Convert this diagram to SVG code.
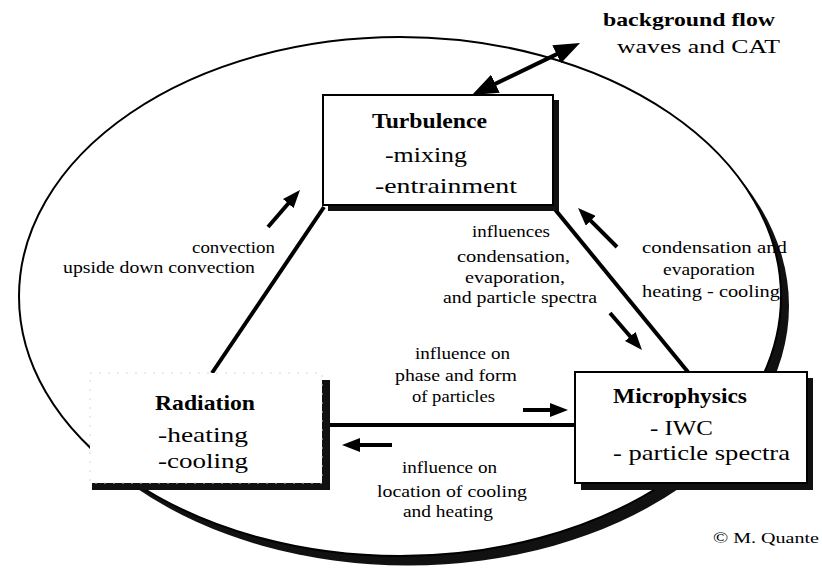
<svg xmlns="http://www.w3.org/2000/svg" width="822" height="571" viewBox="0 0 822 571">
<style>
text{font-family:"Liberation Serif","DejaVu Serif","Times New Roman",serif;fill:#000}
.t{font-size:22px;font-weight:bold}
.b{font-size:21px}
.l{font-size:17px}
.conn{stroke:#000;fill:none;stroke-width:4}
.box{fill:#fff;stroke:#000;stroke-width:2}
.shadow{fill:#111}
</style>
<defs>
<marker id="ah" markerUnits="userSpaceOnUse" markerWidth="18" markerHeight="14" viewBox="0 0 18 14" refX="9" refY="7" orient="auto"><path d="M0,0 L18,7 L0,14 z"/></marker>
<marker id="big" markerUnits="userSpaceOnUse" markerWidth="26" markerHeight="20" viewBox="0 0 26 20" refX="13" refY="10" orient="auto-start-reverse"><path d="M0,0 L26,10 L0,20 z"/></marker>
</defs>
<rect width="822" height="571" fill="#fff"/>
<g id="cloud-boundary">
<ellipse cx="408" cy="306" rx="381" ry="259.5" fill="#111"/>
<ellipse cx="400" cy="296.5" rx="381" ry="259.5" fill="#fff" stroke="#000" stroke-width="2"/>
</g>
<g id="connectors">
<line class="conn" x1="212" y1="373" x2="324" y2="207"/>
<line class="conn" x1="553" y1="207" x2="688" y2="372"/>
<line class="conn" x1="326" y1="425" x2="576" y2="425"/>
<line class="conn" x1="483.7" y1="89.4" x2="568.3" y2="48.6" marker-start="url(#big)" marker-end="url(#big)"/>
<line class="conn" x1="268" y1="227" x2="294.1" y2="196.8" marker-end="url(#ah)"/>
<line class="conn" x1="617" y1="247" x2="584.4" y2="214.4" marker-end="url(#ah)"/>
<line class="conn" x1="610" y1="313" x2="636.1" y2="343.2" marker-end="url(#ah)"/>
<line class="conn" x1="523" y1="410" x2="559" y2="410" marker-end="url(#ah)"/>
<line class="conn" x1="392" y1="445" x2="351" y2="445" marker-end="url(#ah)"/>
</g>
<g id="node-turbulence">
<rect class="shadow" x="328" y="100" width="231" height="111"/>
<rect class="box" x="323" y="95" width="230" height="110"/>
<text class="t" x="372" y="128" textLength="115" lengthAdjust="spacingAndGlyphs">Turbulence</text>
<text class="b" x="385" y="162" textLength="82" lengthAdjust="spacingAndGlyphs">-mixing</text>
<text class="b" x="375" y="193" textLength="142" lengthAdjust="spacingAndGlyphs">-entrainment</text>
</g>
<g id="node-radiation">
<rect class="shadow" x="92" y="380" width="238" height="110"/>
<rect x="90" y="373" width="232" height="110" fill="#fff" stroke="#d8d8d8" stroke-width="1" stroke-dasharray="2 7"/>
<text class="t" x="155" y="410" textLength="100" lengthAdjust="spacingAndGlyphs">Radiation</text>
<text class="b" x="158" y="442" textLength="90" lengthAdjust="spacingAndGlyphs">-heating</text>
<text class="b" x="158" y="468" textLength="90" lengthAdjust="spacingAndGlyphs">-cooling</text>
</g>
<g id="node-microphysics">
<rect class="shadow" x="581" y="378" width="232" height="112"/>
<rect class="box" x="575" y="372" width="232" height="111"/>
<text class="t" x="613" y="403" textLength="134" lengthAdjust="spacingAndGlyphs">Microphysics</text>
<text class="b" x="650" y="435" textLength="63" lengthAdjust="spacingAndGlyphs">- IWC</text>
<text class="b" x="613" y="460" textLength="177" lengthAdjust="spacingAndGlyphs">- particle spectra</text>
</g>
<g id="node-background-flow">
<text x="603" y="26" style="font-size:19px;font-weight:bold" textLength="172" lengthAdjust="spacingAndGlyphs">background flow</text>
<text x="617" y="53" style="font-size:19px" textLength="163" lengthAdjust="spacingAndGlyphs">waves and CAT</text>
</g>
<g id="labels">
<text class="l" x="192" y="253" textLength="83" lengthAdjust="spacingAndGlyphs">convection</text>
<text class="l" x="63" y="273" textLength="192" lengthAdjust="spacingAndGlyphs">upside down convection</text>
<text class="l" x="472" y="237" textLength="78" lengthAdjust="spacingAndGlyphs">influences</text>
<text class="l" x="457" y="262" textLength="113" lengthAdjust="spacingAndGlyphs">condensation,</text>
<text class="l" x="465" y="283" textLength="100" lengthAdjust="spacingAndGlyphs">evaporation,</text>
<text class="l" x="443" y="303" textLength="154" lengthAdjust="spacingAndGlyphs">and particle spectra</text>
<text class="l" x="642" y="253" textLength="145" lengthAdjust="spacingAndGlyphs">condensation and</text>
<text class="l" x="663" y="275" textLength="92" lengthAdjust="spacingAndGlyphs">evaporation</text>
<text class="l" x="642" y="297" textLength="138" lengthAdjust="spacingAndGlyphs">heating - cooling</text>
<text class="l" x="415" y="359" textLength="95" lengthAdjust="spacingAndGlyphs">influence on</text>
<text class="l" x="395" y="381" textLength="122" lengthAdjust="spacingAndGlyphs">phase and form</text>
<text class="l" x="412" y="402" textLength="83" lengthAdjust="spacingAndGlyphs">of particles</text>
<text class="l" x="402" y="473" textLength="95" lengthAdjust="spacingAndGlyphs">influence on</text>
<text class="l" x="377" y="497" textLength="150" lengthAdjust="spacingAndGlyphs">location of cooling</text>
<text class="l" x="403" y="517" textLength="90" lengthAdjust="spacingAndGlyphs">and heating</text>
<text x="713" y="543" style="font-size:15px" textLength="106" lengthAdjust="spacingAndGlyphs">© M. Quante</text>
</g>
</svg>
